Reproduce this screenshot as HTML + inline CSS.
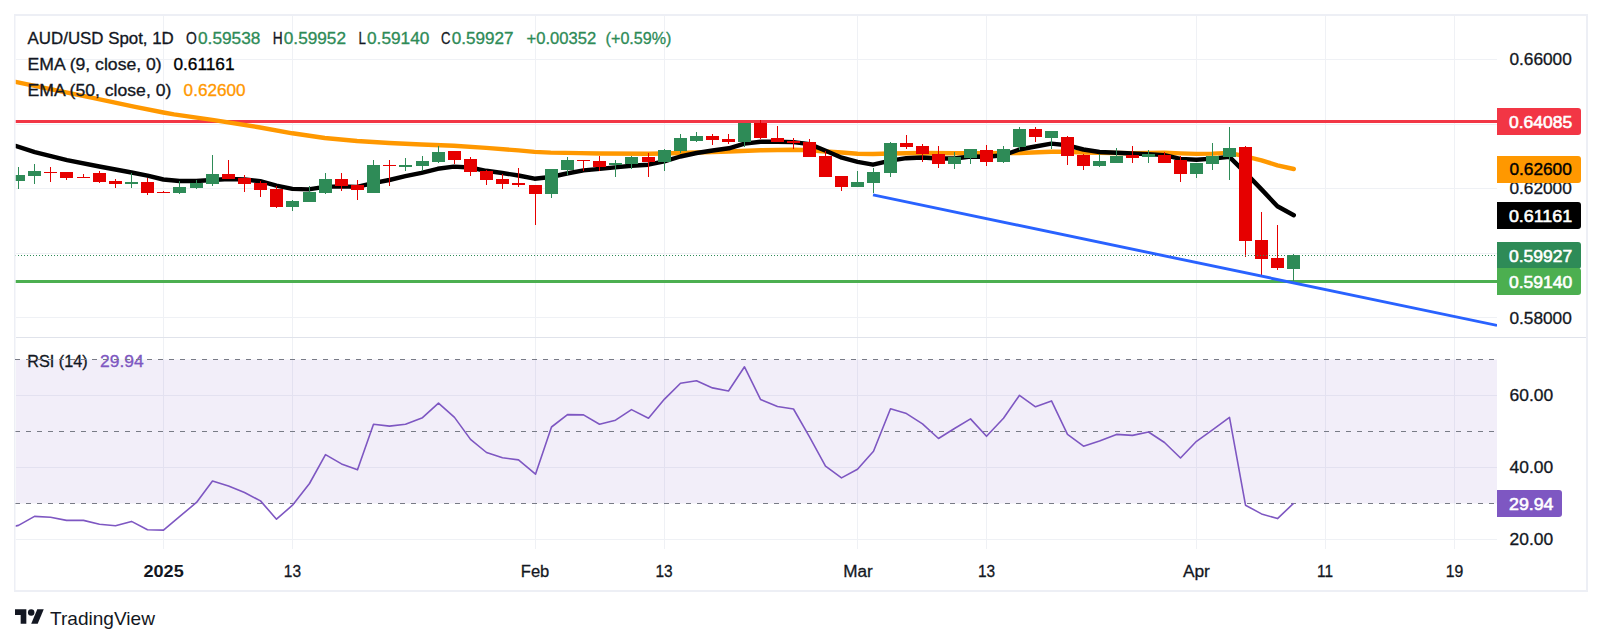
<!DOCTYPE html>
<html><head><meta charset="utf-8"><title>AUD/USD Spot chart</title>
<style>html,body{margin:0;padding:0;background:#fff}svg{display:block}</style></head>
<body>
<svg width="1602" height="644" viewBox="0 0 1602 644" font-family="'Liberation Sans', sans-serif">
<rect width="1602" height="644" fill="#fff"/>
<g stroke="#eff1f5" stroke-width="1" shape-rendering="crispEdges">
<line x1="163.5" y1="16" x2="163.5" y2="549"/>
<line x1="292.5" y1="16" x2="292.5" y2="549"/>
<line x1="535.5" y1="16" x2="535.5" y2="549"/>
<line x1="664.5" y1="16" x2="664.5" y2="549"/>
<line x1="857.5" y1="16" x2="857.5" y2="549"/>
<line x1="986.5" y1="16" x2="986.5" y2="549"/>
<line x1="1196.5" y1="16" x2="1196.5" y2="549"/>
<line x1="1325.5" y1="16" x2="1325.5" y2="549"/>
<line x1="1454.5" y1="16" x2="1454.5" y2="549"/>
<line x1="16" y1="59.5" x2="1497" y2="59.5"/>
<line x1="16" y1="124.5" x2="1497" y2="124.5"/>
<line x1="16" y1="188.5" x2="1497" y2="188.5"/>
<line x1="16" y1="253.5" x2="1497" y2="253.5"/>
<line x1="16" y1="317.5" x2="1497" y2="317.5"/>
<line x1="16" y1="395.5" x2="1497" y2="395.5"/>
<line x1="16" y1="467.5" x2="1497" y2="467.5"/>
<line x1="16" y1="539.5" x2="1497" y2="539.5"/>
</g>
<rect x="16" y="359.5" width="1481" height="144" fill="#7e57c2" fill-opacity="0.1"/>
<g stroke="#787b86" stroke-width="1" stroke-dasharray="5 6" shape-rendering="crispEdges">
<line x1="15" y1="359.5" x2="1497" y2="359.5"/>
<line x1="15" y1="431.5" x2="1497" y2="431.5"/>
<line x1="15" y1="503.5" x2="1497" y2="503.5"/>
</g>
<clipPath id="mp"><rect x="15.5" y="16" width="1481.5" height="321"/></clipPath>
<clipPath id="rp"><rect x="15.5" y="338" width="1481.5" height="210"/></clipPath>
<rect x="15.5" y="280" width="1481.5" height="3" fill="#4caf50"/>
<rect x="15.5" y="120" width="1481.5" height="3" fill="#f23645"/>
<g clip-path="url(#mp)" fill="none" stroke-linejoin="round" stroke-linecap="round">
<path d="M15.5 81.8 L54.0 89.8 L93.9 98.2 L133.9 106.6 L163.4 112.5 L174.0 114.4 L212.3 119.9 L260.2 127.5 L292.4 133.3 L324.7 138.0 L357.0 141.0 L389.3 143.0 L421.5 144.5 L453.8 145.7 L486.1 147.9 L518.4 150.4 L534.5 151.9 L550.7 152.6 L580.0 153.1 L599.7 153.5 L648.2 153.8 L664.3 153.5 L696.6 152.5 L728.9 151.5 L760.6 150.3 L793.4 149.8 L809.6 150.3 L825.7 151.5 L841.8 152.5 L857.6 153.8 L873.0 154.0 L890.4 153.5 L922.2 153.0 L954.5 153.3 L986.5 153.3 L1019.3 153.0 L1051.3 151.8 L1067.5 151.8 L1083.4 152.5 L1099.5 152.8 L1132.3 153.3 L1164.4 152.6 L1180.5 153.4 L1196.4 153.9 L1212.6 153.6 L1229.4 152.9 L1245.3 156.3 L1261.5 160.3 L1277.4 165.3 L1293.8 169.0" stroke="#ff9800" stroke-width="4.4"/>
<path d="M15.4 145.9 L34.8 152.1 L67.0 160.1 L99.3 166.5 L131.6 172.5 L147.5 175.7 L163.4 179.5 L179.5 181.0 L196.2 181.0 L212.3 180.0 L228.5 179.0 L244.6 179.5 L260.2 181.2 L276.4 185.7 L292.4 188.9 L308.6 189.4 L324.7 186.9 L340.8 186.4 L357.0 186.9 L373.1 183.2 L389.3 180.0 L405.4 176.2 L421.5 172.8 L437.7 168.8 L453.8 166.6 L470.0 167.5 L486.1 170.8 L502.3 173.0 L518.4 175.5 L534.5 178.7 L550.7 177.0 L566.8 173.5 L583.6 170.4 L599.7 168.9 L615.1 167.4 L631.5 165.7 L648.2 164.7 L664.3 161.4 L680.4 156.5 L696.6 153.0 L712.7 150.5 L728.9 148.3 L744.5 143.6 L760.6 141.8 L777.3 141.8 L793.4 142.1 L809.6 144.1 L825.7 150.8 L841.8 157.7 L857.6 161.9 L873.0 164.7 L890.4 160.7 L906.3 158.2 L922.2 157.5 L938.6 158.5 L954.5 158.5 L970.6 156.5 L986.5 156.7 L1003.4 155.2 L1019.3 149.5 L1035.4 146.5 L1051.3 143.6 L1067.5 145.3 L1083.4 149.5 L1099.5 152.0 L1116.4 152.8 L1132.3 153.5 L1148.2 154.1 L1164.4 155.1 L1180.5 158.9 L1196.4 159.8 L1212.6 158.6 L1229.4 156.9 L1245.3 172.6 L1261.5 189.4 L1277.4 206.3 L1293.8 215.2" stroke="#000" stroke-width="4.4"/>
</g>
<g clip-path="url(#mp)" shape-rendering="crispEdges">
<rect x="18" y="167" width="1" height="22" fill="#2e8b57"/>
<rect x="12" y="175" width="13" height="6" fill="#2e8b57"/>
<rect x="34" y="164" width="1" height="20" fill="#2e8b57"/>
<rect x="28" y="171" width="13" height="5" fill="#2e8b57"/>
<rect x="50" y="167" width="1" height="15" fill="#e60000"/>
<rect x="44" y="172" width="13" height="1" fill="#e60000"/>
<rect x="66" y="172" width="1" height="8" fill="#e60000"/>
<rect x="60" y="172" width="13" height="6" fill="#e60000"/>
<rect x="83" y="174" width="1" height="4" fill="#e60000"/>
<rect x="77" y="177" width="13" height="1" fill="#e60000"/>
<rect x="99" y="171" width="1" height="12" fill="#e60000"/>
<rect x="93" y="173" width="13" height="9" fill="#e60000"/>
<rect x="115" y="179" width="1" height="9" fill="#e60000"/>
<rect x="109" y="181" width="13" height="3" fill="#e60000"/>
<rect x="131" y="173" width="1" height="15" fill="#2e8b57"/>
<rect x="125" y="182" width="13" height="2" fill="#2e8b57"/>
<rect x="147" y="178" width="1" height="17" fill="#e60000"/>
<rect x="141" y="182" width="13" height="11" fill="#e60000"/>
<rect x="163" y="191" width="1" height="2" fill="#e60000"/>
<rect x="157" y="192" width="13" height="1" fill="#e60000"/>
<rect x="179" y="181" width="1" height="13" fill="#2e8b57"/>
<rect x="173" y="187" width="13" height="6" fill="#2e8b57"/>
<rect x="196" y="180" width="1" height="9" fill="#2e8b57"/>
<rect x="190" y="183" width="13" height="5" fill="#2e8b57"/>
<rect x="212" y="155" width="1" height="31" fill="#2e8b57"/>
<rect x="206" y="174" width="13" height="10" fill="#2e8b57"/>
<rect x="228" y="160" width="1" height="19" fill="#e60000"/>
<rect x="222" y="174" width="13" height="5" fill="#e60000"/>
<rect x="244" y="175" width="1" height="17" fill="#e60000"/>
<rect x="238" y="178" width="13" height="6" fill="#e60000"/>
<rect x="260" y="181" width="1" height="16" fill="#e60000"/>
<rect x="254" y="183" width="13" height="7" fill="#e60000"/>
<rect x="276" y="186" width="1" height="22" fill="#e60000"/>
<rect x="270" y="189" width="13" height="18" fill="#e60000"/>
<rect x="292" y="200" width="1" height="11" fill="#2e8b57"/>
<rect x="286" y="201" width="13" height="6" fill="#2e8b57"/>
<rect x="309" y="186" width="1" height="16" fill="#2e8b57"/>
<rect x="303" y="192" width="13" height="10" fill="#2e8b57"/>
<rect x="325" y="173" width="1" height="21" fill="#2e8b57"/>
<rect x="319" y="179" width="13" height="14" fill="#2e8b57"/>
<rect x="341" y="173" width="1" height="18" fill="#e60000"/>
<rect x="335" y="179" width="13" height="7" fill="#e60000"/>
<rect x="357" y="180" width="1" height="20" fill="#e60000"/>
<rect x="351" y="185" width="13" height="5" fill="#e60000"/>
<rect x="373" y="160" width="1" height="33" fill="#2e8b57"/>
<rect x="367" y="165" width="13" height="28" fill="#2e8b57"/>
<rect x="389" y="160" width="1" height="26" fill="#e60000"/>
<rect x="383" y="165" width="13" height="1" fill="#e60000"/>
<rect x="405" y="158" width="1" height="13" fill="#2e8b57"/>
<rect x="399" y="165" width="13" height="2" fill="#2e8b57"/>
<rect x="422" y="156" width="1" height="15" fill="#2e8b57"/>
<rect x="416" y="161" width="13" height="5" fill="#2e8b57"/>
<rect x="438" y="146" width="1" height="17" fill="#2e8b57"/>
<rect x="432" y="152" width="13" height="10" fill="#2e8b57"/>
<rect x="454" y="151" width="1" height="13" fill="#e60000"/>
<rect x="448" y="151" width="13" height="9" fill="#e60000"/>
<rect x="470" y="157" width="1" height="19" fill="#e60000"/>
<rect x="464" y="159" width="13" height="13" fill="#e60000"/>
<rect x="486" y="170" width="1" height="15" fill="#e60000"/>
<rect x="480" y="171" width="13" height="9" fill="#e60000"/>
<rect x="502" y="174" width="1" height="15" fill="#e60000"/>
<rect x="496" y="179" width="13" height="5" fill="#e60000"/>
<rect x="518" y="168" width="1" height="19" fill="#e60000"/>
<rect x="512" y="183" width="13" height="2" fill="#e60000"/>
<rect x="535" y="185" width="1" height="40" fill="#e60000"/>
<rect x="529" y="185" width="13" height="9" fill="#e60000"/>
<rect x="551" y="169" width="1" height="29" fill="#2e8b57"/>
<rect x="545" y="169" width="13" height="25" fill="#2e8b57"/>
<rect x="567" y="157" width="1" height="18" fill="#2e8b57"/>
<rect x="561" y="160" width="13" height="10" fill="#2e8b57"/>
<rect x="583" y="160" width="1" height="11" fill="#e60000"/>
<rect x="577" y="160" width="13" height="1" fill="#e60000"/>
<rect x="599" y="156" width="1" height="15" fill="#e60000"/>
<rect x="593" y="161" width="13" height="6" fill="#e60000"/>
<rect x="615" y="160" width="1" height="17" fill="#2e8b57"/>
<rect x="609" y="163" width="13" height="2" fill="#2e8b57"/>
<rect x="631" y="156" width="1" height="13" fill="#2e8b57"/>
<rect x="625" y="157" width="13" height="7" fill="#2e8b57"/>
<rect x="648" y="153" width="1" height="24" fill="#e60000"/>
<rect x="642" y="157" width="13" height="5" fill="#e60000"/>
<rect x="664" y="149" width="1" height="22" fill="#2e8b57"/>
<rect x="658" y="150" width="13" height="12" fill="#2e8b57"/>
<rect x="680" y="134" width="1" height="19" fill="#2e8b57"/>
<rect x="674" y="138" width="13" height="13" fill="#2e8b57"/>
<rect x="696" y="132" width="1" height="10" fill="#2e8b57"/>
<rect x="690" y="136" width="13" height="5" fill="#2e8b57"/>
<rect x="712" y="134" width="1" height="11" fill="#e60000"/>
<rect x="706" y="136" width="13" height="4" fill="#e60000"/>
<rect x="728" y="134" width="1" height="10" fill="#e60000"/>
<rect x="722" y="139" width="13" height="3" fill="#e60000"/>
<rect x="744" y="123" width="1" height="24" fill="#2e8b57"/>
<rect x="738" y="123" width="13" height="19" fill="#2e8b57"/>
<rect x="760" y="120" width="1" height="19" fill="#e60000"/>
<rect x="754" y="123" width="13" height="15" fill="#e60000"/>
<rect x="777" y="126" width="1" height="16" fill="#e60000"/>
<rect x="771" y="138" width="13" height="4" fill="#e60000"/>
<rect x="793" y="138" width="1" height="11" fill="#e60000"/>
<rect x="787" y="141" width="13" height="2" fill="#e60000"/>
<rect x="809" y="139" width="1" height="18" fill="#e60000"/>
<rect x="803" y="142" width="13" height="15" fill="#e60000"/>
<rect x="825" y="151" width="1" height="26" fill="#e60000"/>
<rect x="819" y="156" width="13" height="21" fill="#e60000"/>
<rect x="841" y="176" width="1" height="15" fill="#e60000"/>
<rect x="835" y="176" width="13" height="11" fill="#e60000"/>
<rect x="857" y="171" width="1" height="16" fill="#2e8b57"/>
<rect x="851" y="182" width="13" height="5" fill="#2e8b57"/>
<rect x="873" y="168" width="1" height="25" fill="#2e8b57"/>
<rect x="867" y="172" width="13" height="11" fill="#2e8b57"/>
<rect x="890" y="142" width="1" height="35" fill="#2e8b57"/>
<rect x="884" y="143" width="13" height="30" fill="#2e8b57"/>
<rect x="906" y="135" width="1" height="14" fill="#e60000"/>
<rect x="900" y="143" width="13" height="4" fill="#e60000"/>
<rect x="922" y="144" width="1" height="18" fill="#e60000"/>
<rect x="916" y="146" width="13" height="8" fill="#e60000"/>
<rect x="938" y="146" width="1" height="22" fill="#e60000"/>
<rect x="932" y="154" width="13" height="10" fill="#e60000"/>
<rect x="954" y="152" width="1" height="17" fill="#2e8b57"/>
<rect x="948" y="157" width="13" height="7" fill="#2e8b57"/>
<rect x="970" y="149" width="1" height="15" fill="#2e8b57"/>
<rect x="964" y="149" width="13" height="9" fill="#2e8b57"/>
<rect x="986" y="145" width="1" height="21" fill="#e60000"/>
<rect x="980" y="150" width="13" height="12" fill="#e60000"/>
<rect x="1003" y="146" width="1" height="17" fill="#2e8b57"/>
<rect x="997" y="149" width="13" height="13" fill="#2e8b57"/>
<rect x="1019" y="127" width="1" height="23" fill="#2e8b57"/>
<rect x="1013" y="129" width="13" height="18" fill="#2e8b57"/>
<rect x="1035" y="127" width="1" height="15" fill="#e60000"/>
<rect x="1029" y="129" width="13" height="8" fill="#e60000"/>
<rect x="1051" y="131" width="1" height="18" fill="#2e8b57"/>
<rect x="1045" y="131" width="13" height="7" fill="#2e8b57"/>
<rect x="1067" y="136" width="1" height="29" fill="#e60000"/>
<rect x="1061" y="137" width="13" height="19" fill="#e60000"/>
<rect x="1083" y="154" width="1" height="16" fill="#e60000"/>
<rect x="1077" y="155" width="13" height="11" fill="#e60000"/>
<rect x="1099" y="154" width="1" height="13" fill="#2e8b57"/>
<rect x="1093" y="161" width="13" height="5" fill="#2e8b57"/>
<rect x="1116" y="148" width="1" height="15" fill="#2e8b57"/>
<rect x="1110" y="156" width="13" height="7" fill="#2e8b57"/>
<rect x="1132" y="146" width="1" height="17" fill="#e60000"/>
<rect x="1126" y="155" width="13" height="3" fill="#e60000"/>
<rect x="1148" y="150" width="1" height="13" fill="#2e8b57"/>
<rect x="1142" y="154" width="13" height="3" fill="#2e8b57"/>
<rect x="1164" y="152" width="1" height="11" fill="#e60000"/>
<rect x="1158" y="155" width="13" height="8" fill="#e60000"/>
<rect x="1180" y="156" width="1" height="26" fill="#e60000"/>
<rect x="1174" y="160" width="13" height="14" fill="#e60000"/>
<rect x="1196" y="163" width="1" height="15" fill="#2e8b57"/>
<rect x="1190" y="163" width="13" height="11" fill="#2e8b57"/>
<rect x="1212" y="143" width="1" height="27" fill="#2e8b57"/>
<rect x="1206" y="156" width="13" height="8" fill="#2e8b57"/>
<rect x="1229" y="127" width="1" height="53" fill="#2e8b57"/>
<rect x="1223" y="148" width="13" height="9" fill="#2e8b57"/>
<rect x="1245" y="146" width="1" height="111" fill="#e60000"/>
<rect x="1239" y="147" width="13" height="94" fill="#e60000"/>
<rect x="1261" y="212" width="1" height="63" fill="#e60000"/>
<rect x="1255" y="240" width="13" height="19" fill="#e60000"/>
<rect x="1277" y="225" width="1" height="45" fill="#e60000"/>
<rect x="1271" y="258" width="13" height="10" fill="#e60000"/>
<rect x="1293" y="254" width="1" height="27" fill="#2e8b57"/>
<rect x="1287" y="255" width="13" height="14" fill="#2e8b57"/>
</g>
<g clip-path="url(#mp)">
<line x1="15" y1="255.5" x2="1497" y2="255.5" stroke="#2e8b57" stroke-width="1" stroke-dasharray="1 2" shape-rendering="crispEdges"/>
<line x1="873" y1="194.9" x2="1497" y2="325.4" stroke="#2962ff" stroke-width="2.9"/>
</g>
<path clip-path="url(#rp)" d="M2.4 529.0 L18.5 525.4 L34.5 516.4 L50.5 517.3 L66.5 520.4 L83.5 520.4 L99.5 524.2 L115.5 525.7 L131.5 521.4 L147.5 529.8 L163.5 530.1 L179.5 516.7 L196.5 502.4 L212.5 481.0 L228.5 486.0 L244.5 492.5 L260.5 500.9 L276.5 519.2 L292.5 505.2 L309.5 483.5 L325.5 454.6 L341.5 463.9 L357.5 469.8 L373.5 424.2 L389.5 426.1 L405.5 424.2 L422.5 417.7 L438.5 403.1 L454.5 417.4 L470.5 439.4 L486.5 452.5 L502.5 457.7 L518.5 459.9 L535.5 474.2 L551.5 427.0 L567.5 414.6 L583.5 414.9 L599.5 424.2 L615.5 420.2 L631.5 409.6 L648.5 418.3 L664.5 399.1 L680.5 383.2 L696.5 380.7 L712.5 387.9 L728.5 391.0 L744.5 366.8 L760.5 399.4 L777.5 406.5 L793.5 409.0 L809.5 436.9 L825.5 466.1 L841.5 477.9 L857.5 469.2 L873.5 451.2 L890.5 408.7 L906.5 413.6 L922.5 423.9 L938.5 438.5 L954.5 428.5 L970.5 418.9 L986.5 436.3 L1003.5 418.3 L1019.5 395.3 L1035.5 406.8 L1051.5 400.9 L1067.5 434.4 L1083.5 446.2 L1099.5 441.0 L1116.5 434.4 L1132.5 435.4 L1148.5 432.0 L1164.5 442.5 L1180.5 458.0 L1196.5 441.3 L1212.5 429.8 L1229.5 417.4 L1245.5 505.2 L1261.5 513.9 L1277.5 518.6 L1293.5 503.4" fill="none" stroke="#7e57c2" stroke-width="1.6" stroke-linejoin="round"/>
<rect x="16" y="337" width="1570" height="1" fill="#e0e3eb"/>
<g fill="#edeff5"><rect x="14" y="14" width="1574" height="2"/><rect x="14" y="590" width="1574" height="2"/><rect x="14" y="14" width="1.5" height="578"/><rect x="1586" y="14" width="2" height="578"/></g>
<text x="1509.4" y="65.4" font-size="17.3" fill="#131722" stroke="#131722" stroke-width="0.3" textLength="62.4" lengthAdjust="spacingAndGlyphs">0.66000</text>
<text x="1509.4" y="194.4" font-size="17.3" fill="#131722" stroke="#131722" stroke-width="0.3" textLength="62.4" lengthAdjust="spacingAndGlyphs">0.62000</text>
<text x="1509.4" y="323.5" font-size="17.3" fill="#131722" stroke="#131722" stroke-width="0.3" textLength="62.4" lengthAdjust="spacingAndGlyphs">0.58000</text>
<text x="1509.5" y="401.4" font-size="17.3" fill="#131722" stroke="#131722" stroke-width="0.3" textLength="43.6" lengthAdjust="spacingAndGlyphs">60.00</text>
<text x="1509.5" y="473.4" font-size="17.3" fill="#131722" stroke="#131722" stroke-width="0.3" textLength="43.6" lengthAdjust="spacingAndGlyphs">40.00</text>
<text x="1509.5" y="545.4" font-size="17.3" fill="#131722" stroke="#131722" stroke-width="0.3" textLength="43.6" lengthAdjust="spacingAndGlyphs">20.00</text>
<path d="M1497 108.0 h81 a3 3 0 0 1 3 3 v21 a3 3 0 0 1 -3 3 h-81 z" fill="#f23645"/>
<text x="1508.9" y="127.6" font-size="17.3" fill="#fff" stroke="#fff" stroke-width="0.6" textLength="63.3" lengthAdjust="spacingAndGlyphs">0.64085</text>
<path d="M1497 156.0 h81 a3 3 0 0 1 3 3 v21 a3 3 0 0 1 -3 3 h-81 z" fill="#ff9800"/>
<text x="1509.4" y="175.1" font-size="17.3" fill="#000" stroke="#000" stroke-width="0.4" textLength="62.4" lengthAdjust="spacingAndGlyphs">0.62600</text>
<path d="M1497 202.0 h81 a3 3 0 0 1 3 3 v21 a3 3 0 0 1 -3 3 h-81 z" fill="#000"/>
<text x="1508.9" y="221.6" font-size="17.3" fill="#fff" stroke="#fff" stroke-width="0.6" textLength="63.3" lengthAdjust="spacingAndGlyphs">0.61161</text>
<path d="M1497 242.0 h81 a3 3 0 0 1 3 3 v21 a3 3 0 0 1 -3 3 h-81 z" fill="#2e8b57"/>
<text x="1508.9" y="261.6" font-size="17.3" fill="#fff" stroke="#fff" stroke-width="0.6" textLength="63.3" lengthAdjust="spacingAndGlyphs">0.59927</text>
<path d="M1497 268.0 h81 a3 3 0 0 1 3 3 v21 a3 3 0 0 1 -3 3 h-81 z" fill="#4caf50"/>
<text x="1508.9" y="287.6" font-size="17.3" fill="#fff" stroke="#fff" stroke-width="0.6" textLength="63.3" lengthAdjust="spacingAndGlyphs">0.59140</text>
<path d="M1497 490 h62 a3 3 0 0 1 3 3 v21 a3 3 0 0 1 -3 3 h-62 z" fill="#7e57c2"/>
<text x="1509" y="509.6" font-size="17.3" fill="#fff" stroke="#fff" stroke-width="0.6" textLength="44.5" lengthAdjust="spacingAndGlyphs">29.94</text>
<text x="143.5" y="576.6" font-size="17.3" fill="#131722" textLength="40.2" lengthAdjust="spacingAndGlyphs" font-weight="bold">2025</text>
<text x="283.8" y="576.6" font-size="17.3" fill="#131722" stroke="#131722" stroke-width="0.3" textLength="17.2" lengthAdjust="spacingAndGlyphs">13</text>
<text x="520.8" y="576.6" font-size="17.3" fill="#131722" stroke="#131722" stroke-width="0.3" textLength="28.5" lengthAdjust="spacingAndGlyphs">Feb</text>
<text x="655.4" y="576.6" font-size="17.3" fill="#131722" stroke="#131722" stroke-width="0.3" textLength="17.2" lengthAdjust="spacingAndGlyphs">13</text>
<text x="843.2" y="576.6" font-size="17.3" fill="#131722" stroke="#131722" stroke-width="0.3" textLength="29.5" lengthAdjust="spacingAndGlyphs">Mar</text>
<text x="978.0" y="576.6" font-size="17.3" fill="#131722" stroke="#131722" stroke-width="0.3" textLength="17.2" lengthAdjust="spacingAndGlyphs">13</text>
<text x="1182.9" y="576.6" font-size="17.3" fill="#131722" stroke="#131722" stroke-width="0.3" textLength="27.0" lengthAdjust="spacingAndGlyphs">Apr</text>
<text x="1317.0" y="576.6" font-size="17.3" fill="#131722" stroke="#131722" stroke-width="0.3" textLength="16.0" lengthAdjust="spacingAndGlyphs">11</text>
<text x="1445.7" y="576.6" font-size="17.3" fill="#131722" stroke="#131722" stroke-width="0.3" textLength="17.6" lengthAdjust="spacingAndGlyphs">19</text>
<text x="27.6" y="43.6" font-size="15.8" fill="#131722" stroke="#131722" stroke-width="0.3" textLength="146.2" lengthAdjust="spacingAndGlyphs">AUD/USD Spot, 1D</text>
<text x="186.0" y="43.6" font-size="15.8" fill="#131722" stroke="#131722" stroke-width="0.3" textLength="10.8" lengthAdjust="spacingAndGlyphs">O</text>
<text x="198.0" y="43.6" font-size="15.8" fill="#2e8b57" stroke="#2e8b57" stroke-width="0.3" textLength="62.4" lengthAdjust="spacingAndGlyphs">0.59538</text>
<text x="272.7" y="43.6" font-size="15.8" fill="#131722" stroke="#131722" stroke-width="0.3" textLength="9.9" lengthAdjust="spacingAndGlyphs">H</text>
<text x="283.8" y="43.6" font-size="15.8" fill="#2e8b57" stroke="#2e8b57" stroke-width="0.3" textLength="62.2" lengthAdjust="spacingAndGlyphs">0.59952</text>
<text x="358.4" y="43.6" font-size="15.8" fill="#131722" stroke="#131722" stroke-width="0.3" textLength="7.4" lengthAdjust="spacingAndGlyphs">L</text>
<text x="367.0" y="43.6" font-size="15.8" fill="#2e8b57" stroke="#2e8b57" stroke-width="0.3" textLength="62.4" lengthAdjust="spacingAndGlyphs">0.59140</text>
<text x="441.1" y="43.6" font-size="15.8" fill="#131722" stroke="#131722" stroke-width="0.3" textLength="9.5" lengthAdjust="spacingAndGlyphs">C</text>
<text x="451.7" y="43.6" font-size="15.8" fill="#2e8b57" stroke="#2e8b57" stroke-width="0.3" textLength="61.8" lengthAdjust="spacingAndGlyphs">0.59927</text>
<text x="526.5" y="43.6" font-size="15.8" fill="#2e8b57" stroke="#2e8b57" stroke-width="0.3" textLength="69.7" lengthAdjust="spacingAndGlyphs">+0.00352</text>
<text x="605.6" y="43.6" font-size="15.8" fill="#2e8b57" stroke="#2e8b57" stroke-width="0.3" textLength="65.9" lengthAdjust="spacingAndGlyphs">(+0.59%)</text>
<text x="27.6" y="69.9" font-size="15.8" fill="#131722" stroke="#131722" stroke-width="0.3" textLength="134.1" lengthAdjust="spacingAndGlyphs">EMA (9, close, 0)</text>
<text x="173.4" y="69.9" font-size="15.8" fill="#000" stroke="#000" stroke-width="0.3" textLength="61.1" lengthAdjust="spacingAndGlyphs">0.61161</text>
<text x="27.6" y="95.8" font-size="15.8" fill="#131722" stroke="#131722" stroke-width="0.3" textLength="143.7" lengthAdjust="spacingAndGlyphs">EMA (50, close, 0)</text>
<text x="183.6" y="95.8" font-size="15.8" fill="#ff9800" stroke="#ff9800" stroke-width="0.3" textLength="62.0" lengthAdjust="spacingAndGlyphs">0.62600</text>
<text x="27.3" y="366.5" font-size="15.8" fill="#131722" stroke="#131722" stroke-width="0.3" textLength="60.3" lengthAdjust="spacingAndGlyphs">RSI (14)</text>
<text x="100.0" y="366.5" font-size="15.8" fill="#7e57c2" stroke="#7e57c2" stroke-width="0.3" textLength="43.7" lengthAdjust="spacingAndGlyphs">29.94</text>
<line x1="15" y1="359.5" x2="158" y2="359.5" stroke="#787b86" stroke-width="1" stroke-dasharray="5 6" shape-rendering="crispEdges"/>
<g transform="translate(15,606.05) scale(0.81)" fill="#131722"><path d="M14 22H7V11H0V4h14v18z"/><circle cx="20" cy="8" r="4"/><path d="M28 22h-8l7.5-18h8L28 22z"/></g>
<text x="50" y="624.6" font-size="19" fill="#131722" textLength="105" lengthAdjust="spacingAndGlyphs">TradingView</text>
</svg>
</body></html>
